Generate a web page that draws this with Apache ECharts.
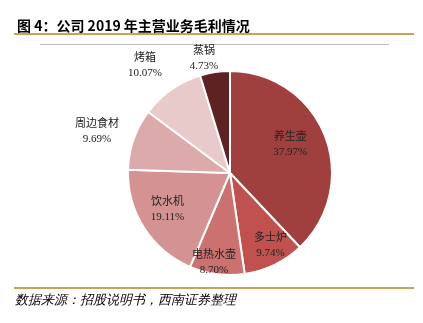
<!DOCTYPE html>
<html><head><meta charset="utf-8">
<script src="https://cdn.jsdelivr.net/npm/echarts@6/dist/echarts.min.js"></script>
<style>html,body{margin:0;padding:0;background:#fff}#c{width:423px;height:323px}</style>
</head><body><div id="c"></div>
<script>
const titleText = '图 4：公司 2019 年主营业务毛利情况';
const sourceText = '数据来源：招股说明书，西南证券整理';
const categories = ['养生壶', '多士炉', '电热水壶', '饮水机', '周边食材', '烤箱', '蒸锅'];
const shares = [37.97, 9.74, 8.70, 19.11, 9.69, 10.07, 4.73];
const colors = ['#9F403E', '#C0514E', '#CB7170', '#D49392', '#DCAAAA', '#E9CACA', '#5E2222'];
// label nudges from the default inside position
const labelShift = [[10, -8], [17, 24], [-9, 36], [-17, 8], [-82, -24], [-54, -63], [-18, -61]];

const chart = echarts.init(document.getElementById('c'), null, {renderer: 'canvas'});
const font = '"Liberation Serif", "Noto Sans CJK SC", serif';
chart.setOption({
  animation: false,
  title: {
    text: titleText, left: 12, top: 14,
    textStyle: {fontSize: 14, fontWeight: 'bold', color: '#000', fontFamily: '"Noto Sans CJK SC", sans-serif'}
  },
  graphic: [
    {type: 'rect', shape: {x: 14, y: 33, width: 400, height: 2}, style: {fill: '#C9A15E'}},
    {type: 'rect', shape: {x: 40, y: 44, width: 349, height: 1}, style: {fill: '#BDBDBD'}},
    {type: 'rect', shape: {x: 14, y: 287, width: 400, height: 2}, style: {fill: '#C9A15E'}},
    {type: 'text', left: 15, top: 294, style: {text: sourceText, fontSize: 13, fontStyle: 'italic', fill: '#000', font: 'italic 13px "Noto Sans CJK SC", sans-serif'}}
  ],
  series: [{
    type: 'pie',
    center: [230, 173],
    radius: 102,
    startAngle: 90,
    clockwise: true,
    itemStyle: {borderColor: '#fff', borderWidth: 2},
    label: {
      position: 'inside',
      formatter: p => p.name + '\n' + p.value.toFixed(2) + '%',
      color: '#222', fontSize: 11, lineHeight: 15, fontFamily: font, align: 'center'
    },
    labelLine: {show: false},
    labelLayout: p => ({dx: labelShift[p.dataIndex][0], dy: labelShift[p.dataIndex][1]}),
    emphasis: {disabled: true},
    data: categories.map((n, i) => ({name: n, value: shares[i], itemStyle: {color: colors[i]}}))
  }]
});
</script></body></html>
